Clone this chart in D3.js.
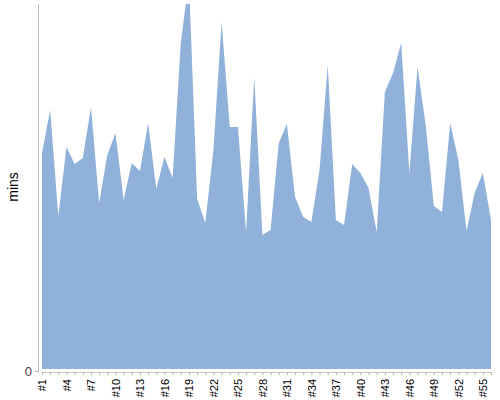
<!DOCTYPE html>
<html>
<head>
<meta charset="utf-8">
<script src="https://cdn.jsdelivr.net/npm/d3@7"></script>
<style>
  body { margin: 0; background: #fff; }
  text { font-family: "Liberation Sans", Arial, sans-serif; }
</style>
</head>
<body>
<div id="chart"></div>
<script>
// one value per session, in minutes
var sessions = d3.range(1, 57).map(function(i) { return "#" + i; });
var mins = [43.2, 51.8, 30.6, 44.4, 41.0, 42.2, 52.4, 33.2, 42.8, 47.2,
            33.8, 41.2, 39.6, 49.2, 36.0, 42.4, 38.2, 65.2, 78.0, 34.0,
            29.2, 43.8, 69.4, 48.4, 48.4, 27.4, 58.4, 26.8, 27.8, 45.2,
            49.0, 34.4, 30.4, 29.4, 39.8, 60.8, 29.8, 28.8, 41.0, 39.2,
            36.2, 27.4, 55.4, 59.2, 65.2, 39.2, 60.4, 48.8, 32.6, 31.4,
            49.2, 41.8, 27.6, 35.2, 39.2, 29.8];
var yTicks = [0];
var yLabel = "mins";

var width = 500, height = 400;
var svg = d3.select("#chart").append("svg")
    .attr("width", width).attr("height", height);

var x = d3.scalePoint().domain(sessions).range([42, 491]);
var y = d3.scaleLinear().domain([0, 73]).range([369, 4]);

svg.append("clipPath").attr("id", "clip")
  .append("rect").attr("x", 38).attr("y", 4).attr("width", 460).attr("height", 370);

var area = d3.area()
    .x(function(d, i) { return x(sessions[i]); })
    .y0(y(0))
    .y1(function(d) { return y(d); });

svg.append("path")
    .datum(mins)
    .attr("clip-path", "url(#clip)")
    .attr("fill", "#8fb1da")
    .attr("d", area);

// x axis: tick at every session, label every third
var xAxis = svg.append("g")
    .attr("transform", "translate(0,372)")
    .call(d3.axisBottom(x).tickSize(3).tickSizeOuter(0)
        .tickFormat(function(d, i) { return i % 3 === 0 ? d : ""; }));
xAxis.select(".domain").attr("stroke", "#c8c8c8");
xAxis.selectAll(".tick line").attr("stroke", "#b0b0b0");
xAxis.selectAll(".tick text")
    .attr("font-size", 11)
    .attr("fill", "#000")
    .attr("transform", "rotate(-90)")
    .attr("text-anchor", "end")
    .attr("x", -7)
    .attr("y", 0)
    .attr("dy", "0.35em");

// y axis
var yAxis = svg.append("g")
    .attr("transform", "translate(38,0)")
    .call(d3.axisLeft(y).tickValues(yTicks).tickSize(3).tickSizeOuter(0));
yAxis.select(".domain").attr("stroke", "#c0c0c0").attr("d", "M0.5,4V372");
yAxis.selectAll(".tick line").attr("stroke", "#b0b0b0").attr("transform", "translate(0,2)");
yAxis.selectAll(".tick text")
    .attr("font-size", 13)
    .attr("fill", "#444")
    .attr("x", -6)
    .attr("dy", "0.5em");

svg.append("text")
    .attr("transform", "translate(18,187) rotate(-90)")
    .attr("text-anchor", "middle")
    .attr("font-size", 14)
    .attr("fill", "#000")
    .text(yLabel);
</script>
</body>
</html>
